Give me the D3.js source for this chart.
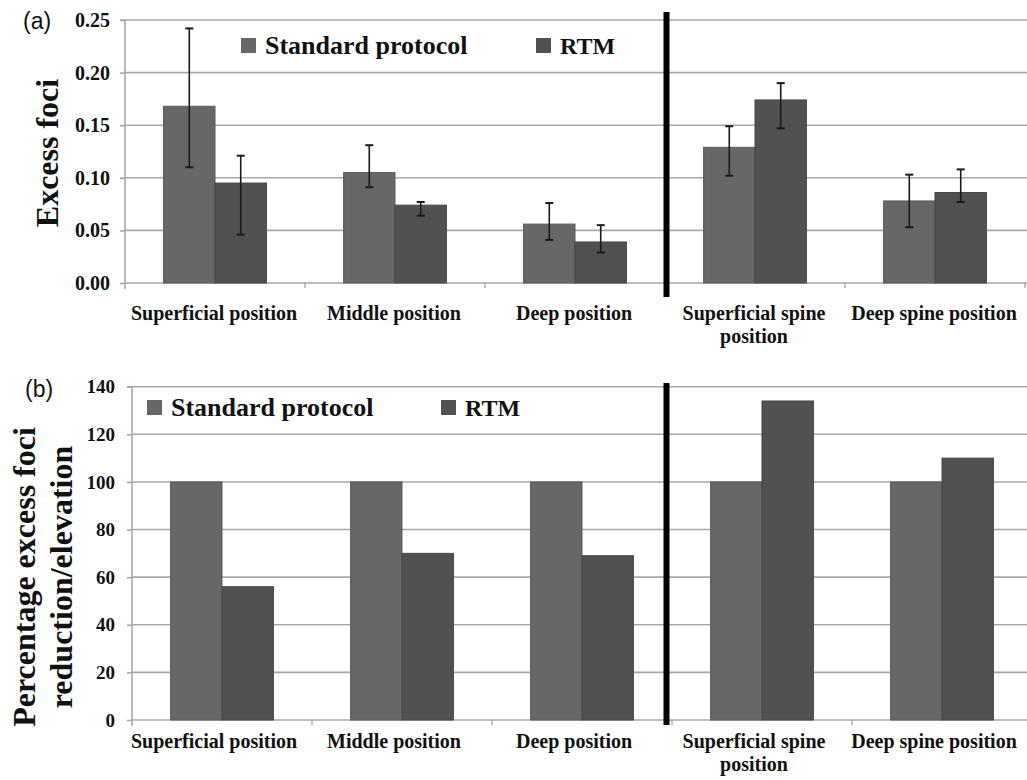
<!DOCTYPE html>
<html>
<head>
<meta charset="utf-8">
<script src="https://cdn.jsdelivr.net/npm/d3@7/dist/d3.min.js"></script>
<style>
  html, body { margin: 0; padding: 0; background: #ffffff; }
  svg { display: block; }
</style>
</head>
<body>
<svg id="chart" width="1027" height="780"></svg>
<script>
// ---------------- DATA ----------------
const categories = ["Superficial position", "Middle position", "Deep position", "Superficial spine position", "Deep spine position"];
const categoryLines = [["Superficial position"], ["Middle position"], ["Deep position"], ["Superficial spine", "position"], ["Deep spine position"]];
const seriesNames = ["Standard protocol", "RTM"];

// Panel (a): excess foci with error bars
const standardFoci = [0.168, 0.105, 0.056, 0.129, 0.078];
const standardFociLow = [0.110, 0.091, 0.041, 0.102, 0.053];
const standardFociHigh = [0.242, 0.131, 0.076, 0.149, 0.103];
const rtmFoci = [0.095, 0.074, 0.039, 0.174, 0.086];
const rtmFociLow = [0.046, 0.064, 0.029, 0.147, 0.077];
const rtmFociHigh = [0.121, 0.077, 0.055, 0.190, 0.108];
const ticksA = [0, 0.05, 0.10, 0.15, 0.20, 0.25];

// Panel (b): percentage excess foci reduction/elevation
const standardPct = [100, 100, 100, 100, 100];
const rtmPct = [56, 70, 69, 134, 110];
const ticksB = [0, 20, 40, 60, 80, 100, 120, 140];

// ---------------- STYLE ----------------
const SERIF = "'Liberation Serif', 'Times New Roman', Times, serif";
const colors = { "Standard protocol": "#676767", "RTM": "#515151" };
const strokes = { "Standard protocol": "#5c5c5c", "RTM": "#474747" };
const gridColor = "#a9a9a9";

const svg = d3.select("#chart");

function serifText(sel, size) {
  return sel.style("font-family", SERIF).style("font-weight", "bold")
    .style("font-size", size + "px").attr("fill", "#111");
}

function drawPanel(cfg) {
  const g = svg.append("g");
  const x0 = d3.scaleBand().domain(categories).range([cfg.left, cfg.left + 900]).padding(0);
  const xl = d3.scaleBand().domain(categories).range([cfg.labelLeft, cfg.labelLeft + 900]).padding(0);
  const x1 = d3.scaleBand().domain(seriesNames).range([0, x0.bandwidth()]).paddingInner(0).paddingOuter(0.75);
  const y = d3.scaleLinear().domain(cfg.domain).range([cfg.bottom, cfg.top]);

  // gridlines
  g.append("g").selectAll("line").data(cfg.ticks).join("line")
    .attr("x1", cfg.left).attr("x2", 1027)
    .attr("y1", d => y(d)).attr("y2", d => y(d))
    .attr("stroke", gridColor).attr("stroke-width", 1.6);

  // y axis
  const yAxis = d3.axisLeft(y).tickValues(cfg.ticks).tickFormat(cfg.fmt).tickSize(5).tickPadding(cfg.tickPad);
  const ya = g.append("g").attr("transform", `translate(${cfg.left},0)`).call(yAxis);
  ya.select(".domain").attr("stroke", gridColor).attr("stroke-width", 1.6)
    .attr("d", `M-5,${cfg.top}H0V${cfg.bottom + 6}`);
  ya.selectAll(".tick line").attr("stroke", gridColor).attr("stroke-width", 1.6);
  serifText(ya.selectAll(".tick text"), cfg.tickFont);

  // category boundary ticks
  const bounds = categories.map(c => x0(c)).slice(1).concat([cfg.left + 900]);
  g.append("g").selectAll("line").data(bounds).join("line")
    .attr("x1", d => d).attr("x2", d => d)
    .attr("y1", cfg.bottom).attr("y2", cfg.bottom + 5)
    .attr("stroke", gridColor).attr("stroke-width", 1.4);

  // bars
  const rows = categories.map((c, i) => ({ c, i }));
  const grp = g.append("g").selectAll("g").data(rows).join("g")
    .attr("transform", d => `translate(${x0(d.c)},0)`);
  grp.selectAll("rect").data(d => seriesNames.map((s, k) => ({ s, v: cfg.values[k][d.i] }))).join("rect")
    .attr("x", d => x1(d.s)).attr("width", x1.bandwidth())
    .attr("y", d => y(d.v)).attr("height", d => y(0) - y(d.v))
    .attr("fill", d => colors[d.s]).attr("stroke", d => strokes[d.s]).attr("stroke-width", 1);

  // error bars
  if (cfg.low) {
    const eb = grp.selectAll("g.eb").data(d => seriesNames.map((s, k) => ({ s, lo: cfg.low[k][d.i], hi: cfg.high[k][d.i] })))
      .join("g").attr("class", "eb");
    eb.append("line")
      .attr("x1", d => x1(d.s) + x1.bandwidth() / 2).attr("x2", d => x1(d.s) + x1.bandwidth() / 2)
      .attr("y1", d => y(d.lo)).attr("y2", d => y(d.hi))
      .attr("stroke", "#1a1a1a").attr("stroke-width", 1.6);
    ["lo", "hi"].forEach(key => {
      eb.append("line")
        .attr("x1", d => x1(d.s) + x1.bandwidth() / 2 - 4).attr("x2", d => x1(d.s) + x1.bandwidth() / 2 + 4)
        .attr("y1", d => y(d[key])).attr("y2", d => y(d[key]))
        .attr("stroke", "#1a1a1a").attr("stroke-width", 2);
    });
  }

  // category labels
  const lab = serifText(g.append("g").selectAll("text").data(rows).join("text"), 20)
    .attr("text-anchor", "middle")
    .attr("x", d => xl(d.c) + xl.bandwidth() / 2)
    .attr("y", cfg.labelY);
  lab.selectAll("tspan").data(d => categoryLines[d.i].map(t => ({ t, x: xl(d.c) + xl.bandwidth() / 2 }))).join("tspan")
    .attr("x", d => d.x).attr("dy", (d, k) => k === 0 ? 0 : 23).text(d => d.t);

  // divider
  g.append("line").attr("x1", 666.5).attr("x2", 666.5)
    .attr("y1", cfg.divTop).attr("y2", cfg.divBottom)
    .attr("stroke", "#000").attr("stroke-width", 6);

  // legend
  const leg = g.append("g");
  seriesNames.forEach((s, k) => {
    leg.append("rect").attr("x", cfg.legX[k]).attr("y", cfg.legY - 16).attr("width", 15).attr("height", 15)
      .attr("fill", colors[s]);
    serifText(leg.append("text"), cfg.legFont[k])
      .attr("x", cfg.legX[k] + 24).attr("y", cfg.legY).text(s);
  });

  // y title
  const yt = serifText(g.append("text"), 32)
    .attr("text-anchor", "middle")
    .attr("transform", `translate(${cfg.titleX},${cfg.titleY}) rotate(-90)`);
  yt.selectAll("tspan").data(cfg.title).join("tspan")
    .attr("x", 0).attr("dy", (d, k) => k === 0 ? 0 : 37).text(d => d);

  // panel letter
  g.append("text").attr("x", cfg.letterX).attr("y", cfg.letterY)
    .style("font-family", "'Liberation Sans', Arial, sans-serif").style("font-size", "23px").attr("fill", "#111")
    .text(cfg.letter);
}

drawPanel({
  left: 125, labelLeft: 124, top: 20, bottom: 283, domain: [0, 0.25], ticks: ticksA, fmt: d3.format(".2f"),
  tickPad: 10, tickFont: 20,
  values: [standardFoci, rtmFoci], low: [standardFociLow, rtmFociLow], high: [standardFociHigh, rtmFociHigh],
  labelY: 320, divTop: 12, divBottom: 297,
  legX: [241, 536], legY: 54, legFont: [26, 24],
  title: ["Excess foci"], titleX: 58, titleY: 153,
  letter: "(a)", letterX: 23, letterY: 29
});

drawPanel({
  left: 132, labelLeft: 124, top: 386.7, bottom: 720, domain: [0, 140], ticks: ticksB, fmt: d3.format("d"),
  tickPad: 12, tickFont: 19,
  values: [standardPct, rtmPct], low: null, high: null,
  labelY: 748, divTop: 383, divBottom: 725,
  legX: [147, 441], legY: 416, legFont: [26, 24],
  title: ["Percentage excess foci", "reduction/elevation"], titleX: 35, titleY: 577,
  letter: "(b)", letterX: 25, letterY: 397
});
</script>
</body>
</html>
